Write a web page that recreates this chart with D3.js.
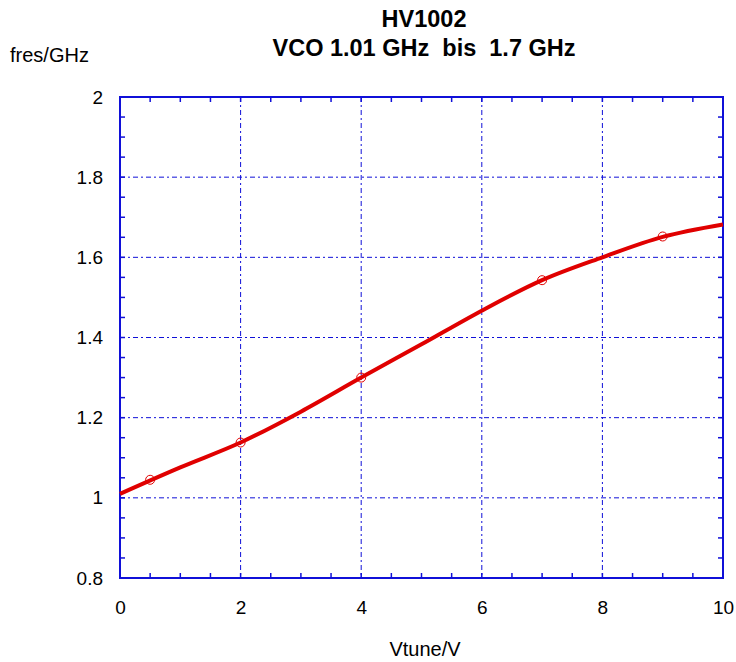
<!DOCTYPE html>
<html>
<head>
<meta charset="utf-8">
<script src="https://cdn.jsdelivr.net/npm/d3@7"></script>
<style>
  body { margin: 0; background: #fff; }
  text { font-family: "Liberation Sans", Arial, sans-serif; }
</style>
</head>
<body>
<script>
// curve samples (Vtune in V, fres in GHz)
var lineX = [0, 1, 2, 3, 4, 5, 6, 7, 8, 9, 10];
var lineY = [1.01, 1.076, 1.138, 1.215, 1.30, 1.383, 1.467, 1.543, 1.60, 1.651, 1.682];
// measured points
var ptX = [0.5, 2, 4, 7, 9];
var ptY = [1.045, 1.138, 1.30, 1.543, 1.652];
var xTicks = [0, 2, 4, 6, 8, 10];
var yTicks = [0.8, 1, 1.2, 1.4, 1.6, 1.8, 2];

var W = 736, H = 662;
var margin = {top: 97, right: 13, bottom: 84, left: 120},
    width = W - margin.left - margin.right,
    height = H - margin.top - margin.bottom;

var svg = d3.select('body').append('svg')
  .attr('width', W)
  .attr('height', H);

var g = svg.append('g')
  .attr('transform', 'translate(' + margin.left + ',' + margin.top + ')');

var x = d3.scaleLinear().domain([0, 10]).range([0, width]);
var y = d3.scaleLinear().domain([0.8, 2]).range([height, 0]);

var gridColor = '#1010d8';

// grid
g.selectAll('.vgrid')
  .data(xTicks.slice(1, -1))
  .enter().append('line')
  .attr('x1', function(d) { return x(d); })
  .attr('x2', function(d) { return x(d); })
  .attr('y1', 0).attr('y2', height)
  .attr('stroke', gridColor)
  .attr('stroke-width', 1)
  .attr('stroke-dasharray', '5,3,2,3');

g.selectAll('.hgrid')
  .data(yTicks.slice(1, -1))
  .enter().append('line')
  .attr('y1', function(d) { return y(d); })
  .attr('y2', function(d) { return y(d); })
  .attr('x1', 0).attr('x2', width)
  .attr('stroke', gridColor)
  .attr('stroke-width', 1)
  .attr('stroke-dasharray', '5,3,2,3');

// axes: ticks pointing inward
var xMinor = d3.range(0, 10.01, 0.5);
var yMinor = d3.range(0.8, 2.001, 0.05);

g.append('g')
  .attr('transform', 'translate(0,' + height + ')')
  .call(d3.axisBottom(x).tickValues(xTicks).tickSize(0).tickPadding(23).tickFormat(d3.format('d')))
  .call(function(a) { a.select('.domain').remove(); });

g.append('g')
  .call(d3.axisLeft(y).tickValues(yTicks).tickSize(0).tickPadding(17).tickFormat(function(d) { return d3.format('')(+d.toFixed(1)); }))
  .call(function(a) { a.select('.domain').remove(); });

g.selectAll('.tick text')
  .style('font-size', '19px')
  .attr('fill', '#000');

var ticks = g.append('g').attr('stroke', gridColor).attr('stroke-width', 1.5);
xMinor.forEach(function(v) {
  ticks.append('line').attr('x1', x(v)).attr('x2', x(v)).attr('y1', height).attr('y2', height - 5);
  ticks.append('line').attr('x1', x(v)).attr('x2', x(v)).attr('y1', 0).attr('y2', 5);
});
yMinor.forEach(function(v) {
  ticks.append('line').attr('y1', y(v)).attr('y2', y(v)).attr('x1', 0).attr('x2', 5);
  ticks.append('line').attr('y1', y(v)).attr('y2', y(v)).attr('x1', width).attr('x2', width - 5);
});

g.append('rect')
  .attr('width', width).attr('height', height)
  .attr('fill', 'none')
  .attr('stroke', gridColor)
  .attr('stroke-width', 2);

// curve
var line = d3.line()
  .x(function(d, i) { return x(lineX[i]); })
  .y(function(d) { return y(d); })
  .curve(d3.curveMonotoneX);

g.append('path')
  .datum(lineY)
  .attr('d', line)
  .attr('fill', 'none')
  .attr('stroke', '#e00000')
  .attr('stroke-width', 4);

g.selectAll('.pt')
  .data(ptY)
  .enter().append('circle')
  .attr('cx', function(d, i) { return x(ptX[i]); })
  .attr('cy', function(d) { return y(d); })
  .attr('r', 4.5)
  .attr('fill', 'none')
  .attr('stroke', '#e00000')
  .attr('stroke-width', 1);

// titles
svg.append('text')
  .attr('x', 424).attr('y', 27)
  .attr('text-anchor', 'middle')
  .style('font-size', '23.5px').style('font-weight', 'bold')
  .text('HV1002');
svg.append('text')
  .attr('x', 424).attr('y', 56)
  .attr('text-anchor', 'middle')
  .style('font-size', '23.5px').style('font-weight', 'bold')
  .style('white-space', 'pre')
  .text('VCO 1.01 GHz  bis  1.7 GHz');
svg.append('text')
  .attr('x', 10).attr('y', 62)
  .style('font-size', '20px')
  .text('fres/GHz');
svg.append('text')
  .attr('x', 425).attr('y', 656)
  .attr('text-anchor', 'middle')
  .style('font-size', '20px')
  .text('Vtune/V');
</script>
</body>
</html>
